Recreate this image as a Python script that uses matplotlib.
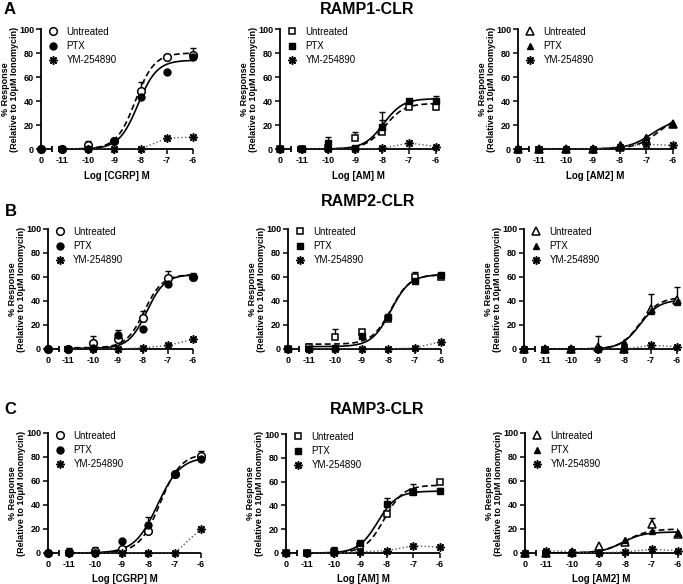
import numpy as np
import matplotlib
matplotlib.use("Agg")
import matplotlib.pyplot as plt
from matplotlib.lines import Line2D

plt.rcParams["font.family"] = ["Liberation Sans", "DejaVu Sans"]
plt.rcParams["font.weight"] = "bold"

# ---- data -------------------------------------------------------------
doses = [0, -11, -10, -9, -8, -7, -6]          # log M (0 = vehicle)
dose_labels = ["0", "-11", "-10", "-9", "-8", "-7", "-6"]
ligands = ["CGRP", "AM", "AM2"]
receptors = ["RAMP1-CLR", "RAMP2-CLR", "RAMP3-CLR"]
row_letters = ["A", "B", "C"]
series_names = ["Untreated", "PTX", "YM-254890"]

# % response; *_err = upper SEM; fits = (bottom, top, logEC50, hill slope)
a1_unt = [0, 0, 3, 7, 48, 77, 78]
a1_unt_err = [0, 0, 4, 1, 8, 1, 6]
a1_ptx = [0, 0, 0, 7, 43, 64, 77]
a1_ptx_err = [0, 0, 0, 0, 0, 0, 2]
a1_ym = [0, 0, 0, 0, 0, 9, 10]
a1_fit_unt = (0, 80, -8.2, 1.2)
a1_fit_ptx = (0, 74, -8.1, 1.2)

a2_unt = [0, 0, 1, 9, 14, 35, 35]
a2_unt_err = [0, 0, 0, 5, 17, 0, 0]
a2_ptx = [0, 0, 5, 1, 18, 40, 40]
a2_ptx_err = [0, 0, 5, 0, 6, 2, 4]
a2_ym = [0, 0, 0, 0, 0.5, 5, 2]
a2_fit_unt = (0, 38, -7.9, 1.2)
a2_fit_ptx = (0, 42, -7.95, 1.2)

a3_unt = [0, 0, 0, 0, 2, 8, 21]
a3_unt_err = [0, 0, 0, 0, 0, 0, 0]
a3_ptx = [0, 0, 0, 0, 4, 10, 21]
a3_ptx_err = [0, 0, 0, 0, 0, 0, 0]
a3_ym = [0, 0, 0, 0, 2, 4, 3]
a3_fit_unt = (0, 30, -6.5, 1.0)
a3_fit_ptx = (0, 25, -6.8, 1.0)

b1_unt = [0, 0, 5, 8, 26, 59, 60]
b1_unt_err = [0, 0, 6, 5, 6, 6, 3]
b1_ptx = [0, 0, 1, 12, 17, 54, 60]
b1_ptx_err = [0, 0, 0, 4, 0, 0, 0]
b1_ym = [0, 0, 0, 0, 1, 3, 8]
b1_fit_unt = (1, 62, -7.95, 1.2)
b1_fit_ptx = (0.5, 62, -7.85, 1.2)

b2_unt = [0, 2, 10, 14, 25, 60, 60]
b2_unt_err = [0, 0, 7, 0, 0, 4, 0]
b2_ptx = [0, 0, 1, 11, 27, 57, 62]
b2_ptx_err = [0, 0, 0, 0, 0, 0, 0]
b2_ym = [0, 0, 0, 0, 0, 1, 6]
b2_fit_unt = (4, 62, -7.9, 1.2)
b2_fit_ptx = (2, 62, -7.9, 1.2)

b3_unt = [0, 0, 0, 2, 0, 33, 41]
b3_unt_err = [0, 0, 0, 9, 0, 13, 11]
b3_ptx = [0, 0, 0, 0, 6, 32, 39]
b3_ptx_err = [0, 0, 0, 0, 0, 0, 0]
b3_ym = [0, 0, 0, 0, 0, 3, 2]
b3_fit_unt = (0, 43, -7.4, 1.2)
b3_fit_ptx = (0, 41, -7.4, 1.2)

c1_unt = [0, 1, 2, 3, 18, 66, 81]
c1_unt_err = [0, 3, 3, 0, 12, 0, 4]
c1_ptx = [0, 0, 0, 10, 23, 66, 78]
c1_ptx_err = [0, 0, 0, 0, 0, 0, 0]
c1_ym = [0, 0, 0, 0, 0, 0, 20]
c1_fit_unt = (0, 83, -7.55, 1.1)
c1_fit_ptx = (0, 80, -7.65, 1.0)

c2_unt = [0, 0, 0.5, 6, 33, 51, 60]
c2_unt_err = [0, 0, 0, 4, 0, 7, 0]
c2_ptx = [0, 0, 2, 8, 41, 51, 52]
c2_ptx_err = [0, 0, 3, 2, 5, 0, 3]
c2_ym = [0, 0, 0, 1, 2, 6, 5]
c2_fit_unt = (0, 57, -8.1, 1.2)
c2_fit_ptx = (0, 52, -8.35, 1.2)

c3_unt = [0, 0, 1, 6, 9, 24, 16]
c3_unt_err = [0, 0, 0, 0, 0, 5, 0]
c3_ptx = [0, 0, 0, 1, 11, 18, 17]
c3_ptx_err = [0, 0, 0, 0, 0, 0, 0]
c3_ym = [0, 2, 1, 0, 1, 3, 2]
c3_fit_unt = (0, 20, -8.0, 1.0)
c3_fit_ptx = (0, 17.5, -8.1, 1.1)

panels = [
    [(a1_unt, a1_unt_err, a1_ptx, a1_ptx_err, a1_ym, a1_fit_unt, a1_fit_ptx),
     (a2_unt, a2_unt_err, a2_ptx, a2_ptx_err, a2_ym, a2_fit_unt, a2_fit_ptx),
     (a3_unt, a3_unt_err, a3_ptx, a3_ptx_err, a3_ym, a3_fit_unt, a3_fit_ptx)],
    [(b1_unt, b1_unt_err, b1_ptx, b1_ptx_err, b1_ym, b1_fit_unt, b1_fit_ptx),
     (b2_unt, b2_unt_err, b2_ptx, b2_ptx_err, b2_ym, b2_fit_unt, b2_fit_ptx),
     (b3_unt, b3_unt_err, b3_ptx, b3_ptx_err, b3_ym, b3_fit_unt, b3_fit_ptx)],
    [(c1_unt, c1_unt_err, c1_ptx, c1_ptx_err, c1_ym, c1_fit_unt, c1_fit_ptx),
     (c2_unt, c2_unt_err, c2_ptx, c2_ptx_err, c2_ym, c2_fit_unt, c2_fit_ptx),
     (c3_unt, c3_unt_err, c3_ptx, c3_ptx_err, c3_ym, c3_fit_unt, c3_fit_ptx)],
]

# ---- layout -----------------------------------------------------------
W, H = 683, 584
ZERO_POS = -11.8          # where the vehicle point sits on the broken axis
SEG1_END, SEG2_START = -11.38, -11.12
# (y-axis px, px of -6, px of 100, px of 0) for every panel
boxes = [[(41, 193, 29, 149), (280, 436, 29, 149), (518, 673, 29, 149)],
         [(48, 193, 229, 349), (288, 441, 229, 349), (524, 677, 229, 349)],
         [(48, 201, 433, 553), (286, 440, 434, 553), (525, 678, 433, 553)]]
markers = ["o", "s", "^"]
msizes = [5.5, 5.0, 5.5]
star = (8, 2, 0)


def hill(x, bottom, top, logec50, slope):
    return bottom + (top - bottom) / (1 + 10 ** ((logec50 - x) * slope))


fig = plt.figure(figsize=(W / 100, H / 100), dpi=100)
xpos = np.array([ZERO_POS if d == 0 else d for d in doses], dtype=float)
xfit = np.linspace(-11.1, -6, 200)

for r in range(3):
    for c in range(3):
        x0, x1, ytop, ybot = boxes[r][c]
        ax = fig.add_axes([x0 / W, 1 - ybot / H, (x1 - x0) / W, (ybot - ytop) / H])
        unt, unt_err, ptx, ptx_err, ym, fit_u, fit_p = panels[r][c]
        m, ms = markers[c], msizes[c]

        ax.plot(xfit, hill(xfit, *fit_p), "-", color="k", lw=1.2, zorder=3)
        ax.plot(xfit, hill(xfit, *fit_u), "--", color="k", lw=1.2, dashes=(3.5, 2), zorder=3)
        ax.plot(xpos[1:], ym[1:], ":", color="0.35", lw=1.0, zorder=3)

        for vals, err in ((unt, unt_err), (ptx, ptx_err)):
            v, e = np.array(vals, float), np.array(err, float)
            k = e > 0
            if k.any():
                ax.errorbar(xpos[k], v[k], yerr=[np.zeros(k.sum()), e[k]], fmt="none",
                            ecolor="k", elinewidth=1.0, capsize=2.5, capthick=1.0,
                            clip_on=False, zorder=4)

        ax.plot(xpos, unt, m, ms=ms, mfc="white", mec="k", mew=1.1, ls="none",
                clip_on=False, zorder=5)
        ax.plot(xpos, ptx, m, ms=ms - 0.5, mfc="k", mec="k", ls="none",
                clip_on=False, zorder=6)
        ax.plot(xpos, ym, marker=star, ms=6, mec="k", mew=1.1, ls="none",
                clip_on=False, zorder=6)

        # broken x axis
        for a, b in ((ZERO_POS, SEG1_END), (SEG2_START, -6)):
            ax.plot([a, b], [0, 0], "-", color="k", lw=1.3, solid_capstyle="butt",
                    clip_on=False, zorder=2)
        ax.plot([SEG1_END, SEG2_START], [0, 0], "|", color="k", ms=5, mew=1.3,
                clip_on=False, zorder=2)

        ax.set_xlim(ZERO_POS, -6)
        ax.set_ylim(0, 100)
        ax.set_xticks(xpos)
        ax.set_xticklabels(dose_labels)
        ax.set_yticks(range(0, 101, 20))
        for s in ("top", "right", "bottom"):
            ax.spines[s].set_visible(False)
        ax.spines["left"].set_linewidth(1.3)
        ax.tick_params(direction="out", length=3.5, width=1.1, labelsize=6.5, pad=1.5)

        ax.set_ylabel("% Response\n(Relative to 10\u03bcM Ionomycin)", fontsize=6.5,
                      fontweight="bold", labelpad=0, linespacing=1.05)
        if r != 1:
            ax.set_xlabel(f"Log [{ligands[c]}] M", fontsize=7, fontweight="bold", labelpad=4)

        handles = [Line2D([], [], marker=m, ms=ms, mfc="white", mec="k", mew=1.1, ls="none"),
                   Line2D([], [], marker=m, ms=ms - 0.5, mfc="k", mec="k", ls="none"),
                   Line2D([], [], marker=star, ms=6, mec="k", mew=1.1, ls="none")]
        ax.legend(handles, series_names, loc="upper left", bbox_to_anchor=(0.04, 1.02),
                  frameon=False, prop={"size": 7, "weight": "normal"}, handlelength=1.2,
                  handletextpad=0.8, labelspacing=0.45, borderpad=0, borderaxespad=0)

# titles and panel letters
title_pos = [(367, 10), (368, 202), (377, 409)]
letter_pos = [(10, 10), (11, 212), (10, 409)]
for (tx, ty), rec in zip(title_pos, receptors):
    fig.text(tx / W, 1 - ty / H, rec, fontsize=11.5, fontweight="bold", ha="center", va="center")
for (lx, ly), let in zip(letter_pos, row_letters):
    fig.text(lx / W, 1 - ly / H, let, fontsize=12, fontweight="bold", ha="center", va="center")

fig.savefig("out.png", dpi=100)
